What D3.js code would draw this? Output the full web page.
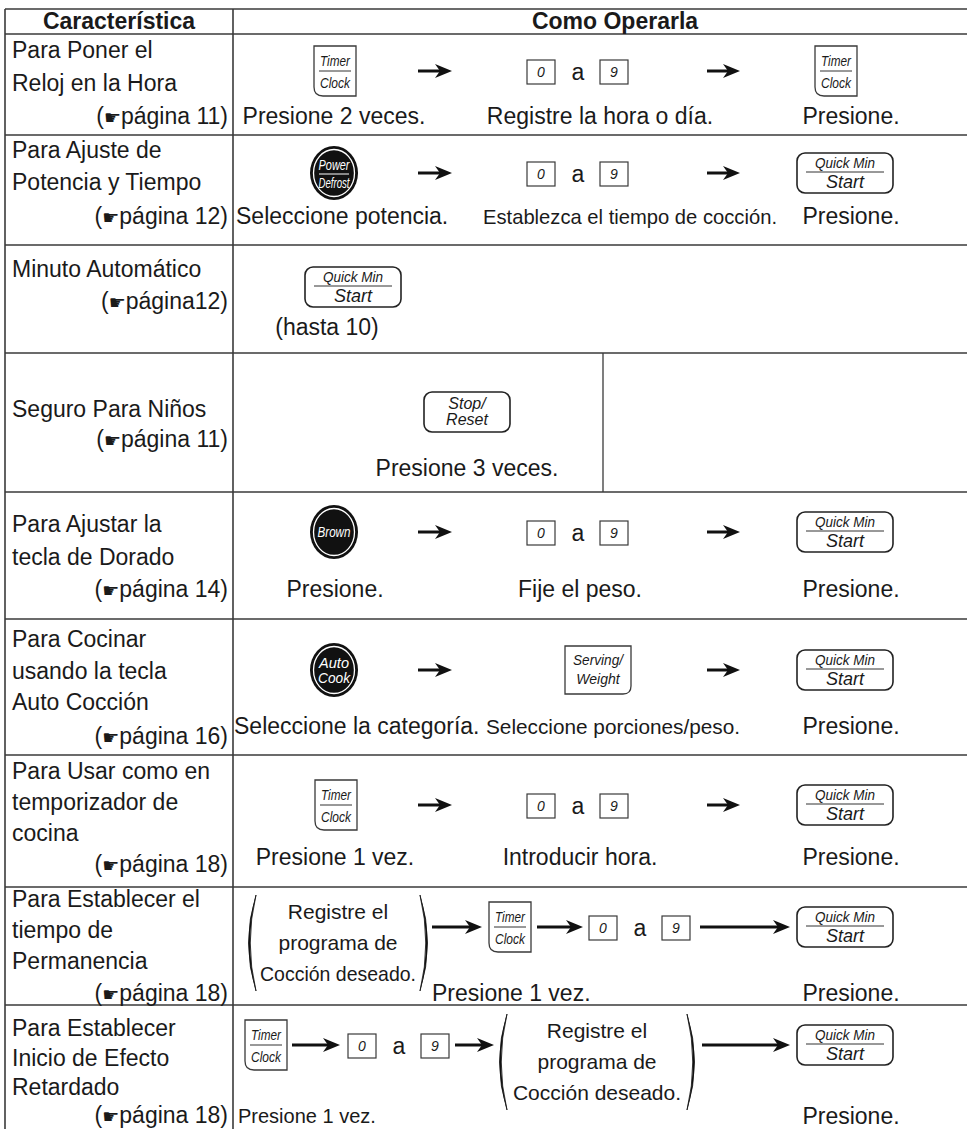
<!DOCTYPE html>
<html><head><meta charset="utf-8">
<script src="https://cdn.jsdelivr.net/npm/d3@7"></script>
<style>
body{margin:0;background:#fff}
text{font-family:"Liberation Sans",Arial,Helvetica,sans-serif;fill:#1a1a1a}
</style>
</head><body>
<svg id="c" width="967" height="1129"></svg>
<script>
// ---------------- DATA ----------------
const headers = ["Característica", "Como Operarla"];
const features = [
  ["Para Poner el", "Reloj en la Hora"],
  ["Para Ajuste de", "Potencia y Tiempo"],
  ["Minuto Automático"],
  ["Seguro Para Niños"],
  ["Para Ajustar la", "tecla de Dorado"],
  ["Para Cocinar", "usando la tecla", "Auto Cocción"],
  ["Para Usar como en", "temporizador de", "cocina"],
  ["Para Establecer el", "tiempo de", "Permanencia"],
  ["Para Establecer", "Inicio de Efecto", "Retardado"]
];
const pageRefs = ["(☛página 11)", "(☛página 12)", "(☛página12)", "(☛página 11)", "(☛página 14)",
  "(☛página 16)", "(☛página 18)", "(☛página 18)", "(☛página 18)"];
const rowSteps = [
  ["timer", "arrow", "digits", "arrow", "timer"],
  ["power", "arrow", "digits", "arrow", "quick"],
  ["quick"],
  ["stop"],
  ["brown", "arrow", "digits", "arrow", "quick"],
  ["autocook", "arrow", "serving", "arrow", "quick"],
  ["timer", "arrow", "digits", "arrow", "quick"],
  ["paren", "arrow", "timer", "arrow", "digits", "arrow", "quick"],
  ["timer", "arrow", "digits", "arrow", "paren", "arrow", "quick"]
];
const keyLabels = {
  timer: ["Timer", "Clock"],
  power: ["Power", "Defrost"],
  brown: ["Brown"],
  autocook: ["Auto", "Cook"],
  quick: ["Quick Min", "Start"],
  stop: ["Stop/", "Reset"],
  serving: ["Serving/", "Weight"],
  digits: ["0", "a", "9"],
  paren: ["Registre el", "programa de", "Cocción deseado."]
};
const captions = [
  ["Presione 2 veces.", "Registre la hora o día.", "Presione."],
  ["Seleccione potencia.", "Establezca el tiempo de cocción.", "Presione."],
  ["(hasta 10)"],
  ["Presione 3 veces."],
  ["Presione.", "Fije el peso.", "Presione."],
  ["Seleccione la categoría.", "Seleccione porciones/peso.", "Presione."],
  ["Presione 1 vez.", "Introducir hora.", "Presione."],
  ["Presione 1 vez.", "Presione."],
  ["Presione 1 vez.", "Presione."]
];

// ---------------- LAYOUT ----------------
const W = 967, H = 1129, colL = 5, colM = 233;
const rowLines = [9, 34, 135, 245, 353, 492, 619, 755, 887, 1005];
const featureBase = [[58, 91], [158, 190], [277], [417], [532, 565], [647, 679, 710], [779, 810, 841], [907, 938, 969], [1036, 1066, 1095]];
const refBase = [124, 224, 309, 447, 597, 744, 872, 1001, 1123];
const stepY = [71, 173, 287, 412, 532, 670, 805, 927, 1045];
const parenY = {7: 943, 8: 1062};
const parenHW = {7: 90, 8: 98};
const stepX = [
  [335, [418, 452], 578, [707, 740], 836],
  [334, [418, 452], 578, [707, 740], 845],
  [353],
  [467],
  [334, [418, 452], 578, [707, 740], 845],
  [334, [418, 452], 598, [707, 740], 845],
  [336, [418, 452], 578, [707, 740], 845],
  [338, [432, 482], 510, [537, 583], 640, [700, 790], 845],
  [266, [292, 340], 399, [455, 494], 597, [702, 790], 845]
];
// caption placement: [x, anchor, baseline, fontSize, textLength]
const captionPos = [
  [[334, "middle", 124], [600, "middle", 124], [851, "middle", 124]],
  [[236, "start", 224], [483, "start", 224, 21, 294], [851, "middle", 224]],
  [[327, "middle", 335]],
  [[467, "middle", 476]],
  [[335, "middle", 597], [580, "middle", 597], [851, "middle", 597]],
  [[234, "start", 734], [486, "start", 734, 21, 254], [851, "middle", 734]],
  [[335, "middle", 865], [580, "middle", 865], [851, "middle", 865]],
  [[432, "start", 1001], [851, "middle", 1001]],
  [[238, "start", 1123, 20], [851, "middle", 1124]]
];
const stroke = "#3a3a3a";

// ---------------- DRAW ----------------
const svg = d3.select("#c");
const y = d3.scaleIdentity().domain([0, H]);
const x = d3.scaleIdentity().domain([0, W]);

// grid
svg.append("g").selectAll("line").data(rowLines).join("line")
  .attr("x1", x(colL)).attr("x2", x(W)).attr("y1", d => y(d)).attr("y2", d => y(d))
  .attr("stroke", stroke).attr("stroke-width", 1.6);
svg.append("g").selectAll("line").data([colL, colM]).join("line")
  .attr("x1", d => x(d)).attr("x2", d => x(d)).attr("y1", y(rowLines[0])).attr("y2", y(H))
  .attr("stroke", stroke).attr("stroke-width", 1.6);
svg.append("line").attr("x1", x(603)).attr("x2", x(603)).attr("y1", y(rowLines[4])).attr("y2", y(rowLines[5]))
  .attr("stroke", stroke).attr("stroke-width", 1.3);

// headers
svg.append("g").selectAll("text").data(headers).join("text")
  .attr("x", (d, i) => i === 0 ? 119 : 615)
  .attr("y", 29).attr("text-anchor", "middle")
  .style("font-weight", "bold").style("font-size", "23px").text(d => d);

// feature column
features.forEach((lines, r) => {
  lines.forEach((t, i) => {
    svg.append("text").attr("x", 12).attr("y", featureBase[r][i]).style("font-size", "23px").text(t);
  });
  const rt = svg.append("text").attr("x", 228).attr("y", refBase[r]).attr("text-anchor", "end").style("font-size", "23px");
  const parts = pageRefs[r].split("☛");
  rt.append("tspan").text(parts[0]);
  rt.append("tspan").text("☛").style("font-family", "DejaVu Sans").style("font-size", "19px");
  rt.append("tspan").text(parts[1]);
});

// key drawing helpers
function italic(g, t, cx, cy, size, color, fit) {
  const el = g.append("text").attr("x", cx).attr("y", cy).attr("text-anchor", "middle")
    .style("font-style", "italic").style("font-size", size + "px").style("fill", color || "#1a1a1a").text(t);
  if (fit && el.node().getComputedTextLength() > fit) el.attr("textLength", fit).attr("lengthAdjust", "spacingAndGlyphs");
  return el;
}
function drawArrow(g, x1, x2, cy) {
  g.append("line").attr("x1", x1).attr("x2", x2 - 10).attr("y1", cy).attr("y2", cy)
    .attr("stroke", "#111").attr("stroke-width", 3);
  g.append("path").attr("d", `M${x2},${cy} L${x2 - 17},${cy - 7} L${x2 - 12},${cy} L${x2 - 17},${cy + 7} Z`).attr("fill", "#111");
}
function drawTimer(g, cx, cy) {
  const x0 = cx - 21, x1 = cx + 21, y0 = cy - 25, y1 = cy + 25, r = 9;
  g.append("path").attr("d", `M${x0},${y0} H${x1} V${y1} H${x0 + r} Q${x0},${y1} ${x0},${y1 - r} Z`)
    .attr("fill", "#fff").attr("stroke", stroke).attr("stroke-width", 1.3);
  g.append("line").attr("x1", x0 + 5).attr("x2", x1 - 5).attr("y1", cy).attr("y2", cy).attr("stroke", "#333").attr("stroke-width", 1);
  italic(g, keyLabels.timer[0], cx, cy - 5, 14, null, 30);
  italic(g, keyLabels.timer[1], cx, cy + 17, 14, null, 30);
}
function drawDigits(g, cx, cy) {
  const lab = keyLabels.digits;
  [[-37, lab[0]], [36, lab[2]]].forEach(([dx, t]) => {
    g.append("rect").attr("x", cx + dx - 14).attr("y", cy - 11).attr("width", 28).attr("height", 24)
      .attr("fill", "#fff").attr("stroke", stroke).attr("stroke-width", 1.2);
    italic(g, t, cx + dx, cy + 6, 14);
  });
  g.append("text").attr("x", cx).attr("y", cy + 9).attr("text-anchor", "middle").style("font-size", "23px").text(lab[1]);
}
function drawQuick(g, cx, cy) {
  g.append("rect").attr("x", cx - 48).attr("y", cy - 20).attr("width", 96).attr("height", 40).attr("rx", 8)
    .attr("fill", "#fff").attr("stroke", "#222").attr("stroke-width", 1.6);
  italic(g, keyLabels.quick[0], cx, cy - 5, 14, null, 60);
  g.append("line").attr("x1", cx - 39).attr("x2", cx + 39).attr("y1", cy - 1).attr("y2", cy - 1).attr("stroke", "#333").attr("stroke-width", 1);
  italic(g, keyLabels.quick[1], cx, cy + 15, 18);
}
function drawStop(g, cx, cy) {
  g.append("rect").attr("x", cx - 43).attr("y", cy - 20).attr("width", 86).attr("height", 40).attr("rx", 8)
    .attr("fill", "#fff").attr("stroke", "#222").attr("stroke-width", 1.6);
  italic(g, keyLabels.stop[0], cx, cy - 3, 16);
  italic(g, keyLabels.stop[1], cx, cy + 13, 16);
}
function drawServing(g, cx, cy) {
  const x0 = cx - 33, x1 = cx + 33, y0 = cy - 24, y1 = cy + 24, r = 8;
  g.append("path").attr("d", `M${x0},${y0} H${x1} V${y1 - r} Q${x1},${y1} ${x1 - r},${y1} H${x0} Z`)
    .attr("fill", "#fff").attr("stroke", stroke).attr("stroke-width", 1.3);
  italic(g, keyLabels.serving[0], cx, cy - 5, 14, null, 50);
  italic(g, keyLabels.serving[1], cx, cy + 14, 14, null, 44);
}
function drawCircle(g, cx, cy, type) {
  g.append("ellipse").attr("cx", cx).attr("cy", cy).attr("rx", 24).attr("ry", 27).attr("fill", "#111");
  g.append("ellipse").attr("cx", cx).attr("cy", cy).attr("rx", 20.5).attr("ry", 23.5).attr("fill", "none")
    .attr("stroke", "#fff").attr("stroke-width", 1.3);
  const lab = keyLabels[type];
  if (type === "power") {
    italic(g, lab[0], cx, cy - 3, 14, "#fff", 31);
    g.append("line").attr("x1", cx - 15).attr("x2", cx + 15).attr("y1", cy + 1).attr("y2", cy + 1).attr("stroke", "#fff").attr("stroke-width", 1);
    italic(g, lab[1], cx, cy + 15, 14, "#fff", 31);
  } else if (lab.length === 1) {
    italic(g, lab[0], cx, cy + 5, 14, "#fff", 33);
  } else {
    italic(g, lab[0], cx, cy - 2, 15, "#fff", 30);
    italic(g, lab[1], cx, cy + 13, 15, "#fff", 32);
  }
}
function parenPath(xp, cy, dir) {
  const top = cy - 48, bot = cy + 48;
  const b = dir * 15, t = dir * 3.5;
  return `M${xp},${top} Q${xp - b},${cy} ${xp},${bot} Q${xp - b + t},${cy} ${xp},${top} Z`;
}
function drawParen(g, cx, cy, hw) {
  g.append("path").attr("d", parenPath(cx - hw + 8, cy, 1)).attr("fill", "#111").attr("stroke", "#111").attr("stroke-width", 0.8);
  g.append("path").attr("d", parenPath(cx + hw - 8, cy, -1)).attr("fill", "#111").attr("stroke", "#111").attr("stroke-width", 0.8);
  keyLabels.paren.forEach((t, i) => {
    const el = g.append("text").attr("x", cx).attr("y", cy - 24 + i * 31).attr("text-anchor", "middle").style("font-size", "21px").text(t);
    const fit = 2 * hw - 24;
    if (el.node().getComputedTextLength() > fit) el.attr("textLength", fit).attr("lengthAdjust", "spacingAndGlyphs");
  });
}

rowSteps.forEach((steps, r) => {
  const g = svg.append("g");
  const cy = y(stepY[r]);
  steps.forEach((k, i) => {
    const px = stepX[r][i];
    if (k === "arrow") drawArrow(g, x(px[0]), x(px[1]), cy);
    else if (k === "timer") drawTimer(g, x(px), cy);
    else if (k === "digits") drawDigits(g, x(px), cy);
    else if (k === "quick") drawQuick(g, x(px), cy);
    else if (k === "stop") drawStop(g, x(px), cy);
    else if (k === "serving") drawServing(g, x(px), cy);
    else if (k === "paren") drawParen(g, x(px), y(parenY[r]), parenHW[r]);
    else drawCircle(g, x(px), cy, k);
  });
  captions[r].forEach((t, i) => {
    const p = captionPos[r][i];
    const tx = svg.append("text").attr("x", x(p[0])).attr("y", y(p[2])).attr("text-anchor", p[1])
      .style("font-size", (p[3] || 23) + "px").text(t);
    if (p[4]) tx.attr("textLength", p[4]).attr("lengthAdjust", "spacingAndGlyphs");
  });
});
</script>
</body></html>
